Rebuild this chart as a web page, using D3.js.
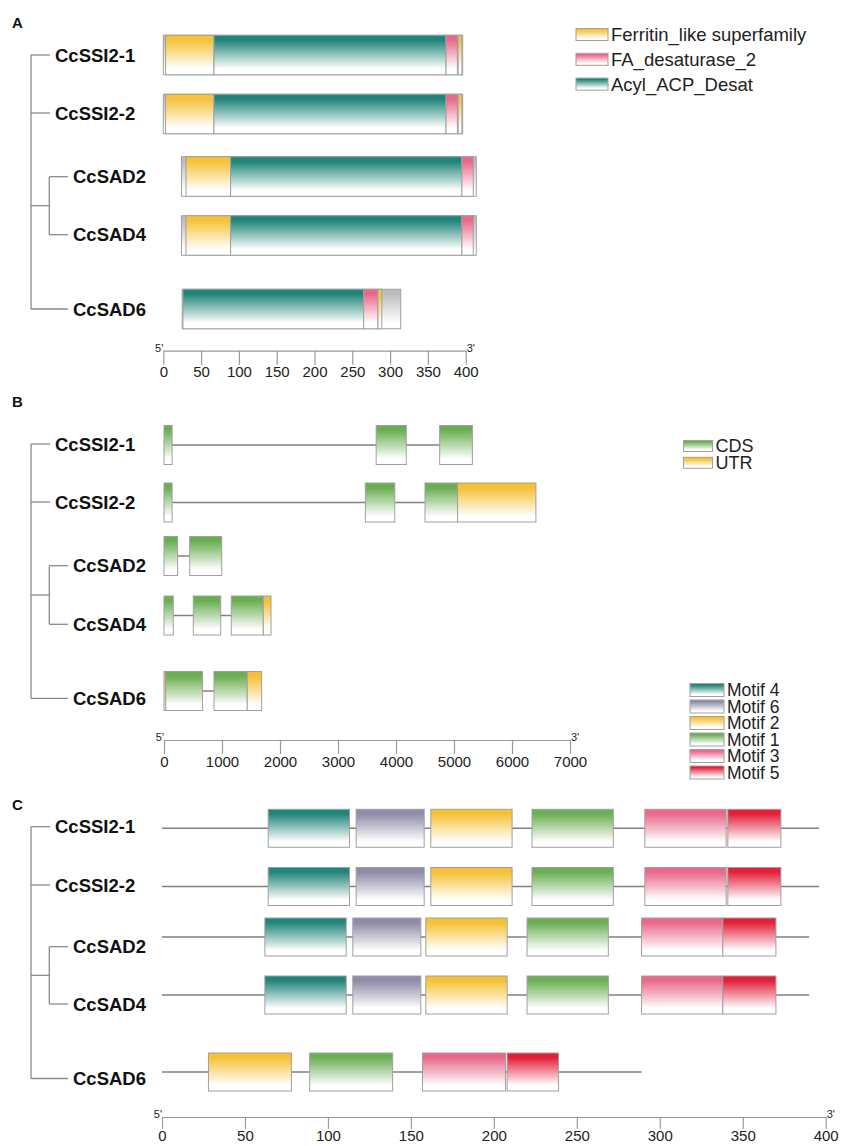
<!DOCTYPE html>
<html><head><meta charset="utf-8">
<script src="https://cdn.jsdelivr.net/npm/d3@7/dist/d3.min.js"></script>
<style>
html,body{margin:0;padding:0;background:#fff;}
text{font-family:"Liberation Sans",Arial,sans-serif;}
</style>
</head><body>
<svg id="chart" width="842" height="1146"></svg>
<script>
// ---------- DATA ----------
const genes = ["CcSSI2-1","CcSSI2-2","CcSAD2","CcSAD4","CcSAD6"];

// Panel A: conserved domains (aa)
const domainNames = ["Ferritin_like superfamily","FA_desaturase_2","Acyl_ACP_Desat"];
const proteinStartA = [0,0,24,24,25];
const proteinEndA = [396,396,414,414,314];
const domainsSSI2_1 = [["Ferritin_like superfamily",3,67],["Acyl_ACP_Desat",67,374],["FA_desaturase_2",374,389],["Ferritin_like superfamily",390,395]];
const domainsSSI2_2 = [["Ferritin_like superfamily",3,67],["Acyl_ACP_Desat",67,374],["FA_desaturase_2",374,389],["Ferritin_like superfamily",390,395]];
const domainsSAD2 = [["Ferritin_like superfamily",30,89],["Acyl_ACP_Desat",89,395],["FA_desaturase_2",395,410]];
const domainsSAD4 = [["Ferritin_like superfamily",30,89],["Acyl_ACP_Desat",89,395],["FA_desaturase_2",395,410]];
const domainsSAD6 = [["Acyl_ACP_Desat",26,265],["FA_desaturase_2",265,284],["Ferritin_like superfamily",284,289]];
const axisATicks = [0,50,100,150,200,250,300,350,400];

// Panel B: gene structure (bp)
const featureNames = ["CDS","UTR"];
const structSSI2_1 = [["CDS",0,140],["CDS",3658,4177],["CDS",4753,5317]];
const structSSI2_2 = [["CDS",0,140],["CDS",3472,3979],["CDS",4500,5062],["UTR",5062,6412]];
const structSAD2 = [["CDS",0,235],["CDS",443,995]];
const structSAD4 = [["CDS",0,160],["CDS",505,978],["CDS",1160,1712],["UTR",1712,1845]];
const structSAD6 = [["UTR",0,30],["CDS",30,665],["CDS",862,1436],["UTR",1436,1683]];
const axisBTicks = [0,1000,2000,3000,4000,5000,6000,7000];

// Panel C: conserved motifs (aa)
const motifNames = ["Motif 4","Motif 6","Motif 2","Motif 1","Motif 3","Motif 5"];
const proteinLength = [396,396,390,390,289];
const motifsSSI2_1 = [["Motif 4",64,113],["Motif 6",117,158],["Motif 2",162,211],["Motif 1",223,272],["Motif 3",291,340],["Motif 5",341,373]];
const motifsSSI2_2 = [["Motif 4",64,113],["Motif 6",117,158],["Motif 2",162,211],["Motif 1",223,272],["Motif 3",291,340],["Motif 5",341,373]];
const motifsSAD2 = [["Motif 4",62,111],["Motif 6",115,156],["Motif 2",159,208],["Motif 1",220,269],["Motif 3",289,338],["Motif 5",338,370]];
const motifsSAD4 = [["Motif 4",62,111],["Motif 6",115,156],["Motif 2",159,208],["Motif 1",220,269],["Motif 3",289,338],["Motif 5",338,370]];
const motifsSAD6 = [["Motif 2",28,78],["Motif 1",89,139],["Motif 3",157,207],["Motif 5",208,239]];
const axisCTicks = [0,50,100,150,200,250,300,350,400];

// ---------- STYLE ----------
const colors = {
  "Ferritin_like superfamily":"#F5C23A","FA_desaturase_2":"#E9688A","Acyl_ACP_Desat":"#1F8579","bg":"#BDBDBD",
  "CDS":"#6BAE52","UTR":"#F5C037",
  "Motif 4":"#22857A","Motif 6":"#8E8CA8","Motif 2":"#F5C237","Motif 1":"#6CAE55","Motif 3":"#E8698B","Motif 5":"#E3203A"
};
const FONT = '"Liberation Sans",Arial,sans-serif';
const strokeCol = "#a0a0a0";
const treeCol = "#8a8a8a";

const svg = d3.select("#chart");
const defs = svg.append("defs");
const gid = {};
Object.keys(colors).forEach((k,i)=>{
  const id = "g"+i; gid[k]=id;
  const lg = defs.append("linearGradient").attr("id",id).attr("x1",0).attr("y1",0).attr("x2",0).attr("y2",1);
  lg.append("stop").attr("offset","0%").attr("stop-color",colors[k]);
  lg.append("stop").attr("offset","12%").attr("stop-color",colors[k]);
  lg.append("stop").attr("offset","85%").attr("stop-color","#ffffff");
  lg.append("stop").attr("offset","100%").attr("stop-color","#ffffff");
});
const fill = k => `url(#${gid[k]})`;

// ---------- helpers ----------
function panelLetter(t,x,y){
  svg.append("text").attr("x",x).attr("y",y).text(t)
    .attr("font-size",15).attr("font-weight","bold").attr("fill","#111");
}
function drawTree(tips){
  const g = svg.append("g").attr("stroke",treeCol).attr("stroke-width",1.3).attr("fill","none");
  const trunkX = 31, innerX = 49.3, ssiEnd = 50, sadEnd = 68;
  const joinY = (tips[2]+tips[3])/2;
  g.append("line").attr("x1",trunkX).attr("x2",trunkX).attr("y1",tips[0]).attr("y2",tips[4]);
  g.append("line").attr("x1",trunkX).attr("x2",ssiEnd).attr("y1",tips[0]).attr("y2",tips[0]);
  g.append("line").attr("x1",trunkX).attr("x2",ssiEnd).attr("y1",tips[1]).attr("y2",tips[1]);
  g.append("line").attr("x1",trunkX).attr("x2",innerX).attr("y1",joinY).attr("y2",joinY);
  g.append("line").attr("x1",innerX).attr("x2",innerX).attr("y1",tips[2]).attr("y2",tips[3]);
  g.append("line").attr("x1",innerX).attr("x2",sadEnd).attr("y1",tips[2]).attr("y2",tips[2]);
  g.append("line").attr("x1",innerX).attr("x2",sadEnd).attr("y1",tips[3]).attr("y2",tips[3]);
  g.append("line").attr("x1",trunkX).attr("x2",sadEnd).attr("y1",tips[4]).attr("y2",tips[4]);
  genes.forEach((name,i)=>{
    svg.append("text").attr("x", i<2?55:73).attr("y",tips[i]).attr("dy","0.36em")
      .attr("font-size",18.5).attr("font-weight","bold").attr("fill","#111").text(name);
  });
}
function drawAxis(scale, ticks, y, tsize, tpad){
  const ax = d3.axisBottom(scale).tickValues(ticks).tickSize(tsize).tickSizeOuter(0).tickPadding(tpad).tickFormat(d3.format("d"));
  const g = svg.append("g").attr("transform",`translate(0,${y})`).call(ax);
  g.select(".domain").attr("stroke","#9a9a9a").attr("stroke-width",1.2);
  g.selectAll(".tick line").attr("stroke","#9a9a9a").attr("stroke-width",1.2);
  g.selectAll(".tick text").attr("font-size",15).attr("font-family",FONT).attr("fill","#222");
  const [r0,r1] = scale.range();
  svg.append("text").attr("x",r0).attr("y",y+1).attr("text-anchor","end").attr("font-size",11).attr("fill","#222").text("5'");
  svg.append("text").attr("x",r1+1).attr("y",y+1).attr("font-size",11).attr("fill","#222").text("3'");
}
function box(g,x0,x1,yc,h,key){
  g.append("rect").attr("x",x0).attr("y",yc-h/2).attr("width",Math.max(0,x1-x0)).attr("height",h)
    .attr("fill",fill(key)).attr("stroke",strokeCol).attr("stroke-width",1);
}
function legend(items,x,y0,step,w,h,fs){
  items.forEach((k,i)=>{
    const yc = y0+i*step;
    svg.append("rect").attr("x",x).attr("y",yc-h/2).attr("width",w).attr("height",h)
      .attr("fill",fill(k)).attr("stroke",strokeCol).attr("stroke-width",1);
    svg.append("text").attr("x",x+w+3).attr("y",yc).attr("dy","0.36em").attr("font-size",fs).attr("fill","#222").text(k);
  });
}

// ---------- PANEL A ----------
panelLetter("A",12,28);
const xA = d3.scaleLinear().domain([0,400]).range([163.3,465.7]);
const rowA = [55,114,176.5,235.5,309];
drawTree([55,113,176.7,234.7,309]);
const domainsA = [domainsSSI2_1,domainsSSI2_2,domainsSAD2,domainsSAD4,domainsSAD6];
const gA = svg.append("g");
genes.forEach((g,i)=>{
  box(gA,xA(proteinStartA[i]),xA(proteinEndA[i]),rowA[i],39.5,"bg");
  domainsA[i].forEach(d=>box(gA,xA(d[1]),xA(d[2]),rowA[i],39.5,d[0]));
});
drawAxis(xA,axisATicks,350.7,14,2);
legend(domainNames,576,34.5,24.8,32,12,18.5);

// ---------- PANEL B ----------
panelLetter("B",12,407);
const xB = d3.scaleLinear().domain([0,7000]).range([164,570]);
const rowB = [445,502.5,556,615.5,691];
drawTree([444,502,565.7,624.3,698.3]);
const structB = [structSSI2_1,structSSI2_2,structSAD2,structSAD4,structSAD6];
const gB = svg.append("g");
genes.forEach((g,i)=>{
  const s = structB[i];
  gB.append("line").attr("x1",xB(s[0][1])).attr("x2",xB(s[s.length-1][2]))
    .attr("y1",rowB[i]).attr("y2",rowB[i]).attr("stroke","#808080").attr("stroke-width",1.5);
  s.forEach(d=>box(gB,xB(d[1]),xB(d[2]),rowB[i],39,d[0]));
});
drawAxis(xB,axisBTicks,740,14,2);
legend(featureNames,683.5,446,16.8,29,11,18);

// ---------- PANEL C ----------
panelLetter("C",12,810);
const xC = d3.scaleLinear().domain([0,400]).range([162,825.7]);
const rowC = [828.3,886.5,937,995,1072];
drawTree([826.7,885,946.7,1004,1078.5]);
const motifsC = [motifsSSI2_1,motifsSSI2_2,motifsSAD2,motifsSAD4,motifsSAD6];
const gC = svg.append("g");
genes.forEach((g,i)=>{
  gC.append("line").attr("x1",xC(0)).attr("x2",xC(proteinLength[i]))
    .attr("y1",rowC[i]).attr("y2",rowC[i]).attr("stroke","#808080").attr("stroke-width",1.5);
  motifsC[i].forEach(d=>box(gC,xC(d[1]),xC(d[2]),rowC[i],38,d[0]));
});
drawAxis(xC,axisCTicks,1117,12,1);
legend(motifNames,690,690,16.5,34,13,17.5);
</script>
</body></html>
